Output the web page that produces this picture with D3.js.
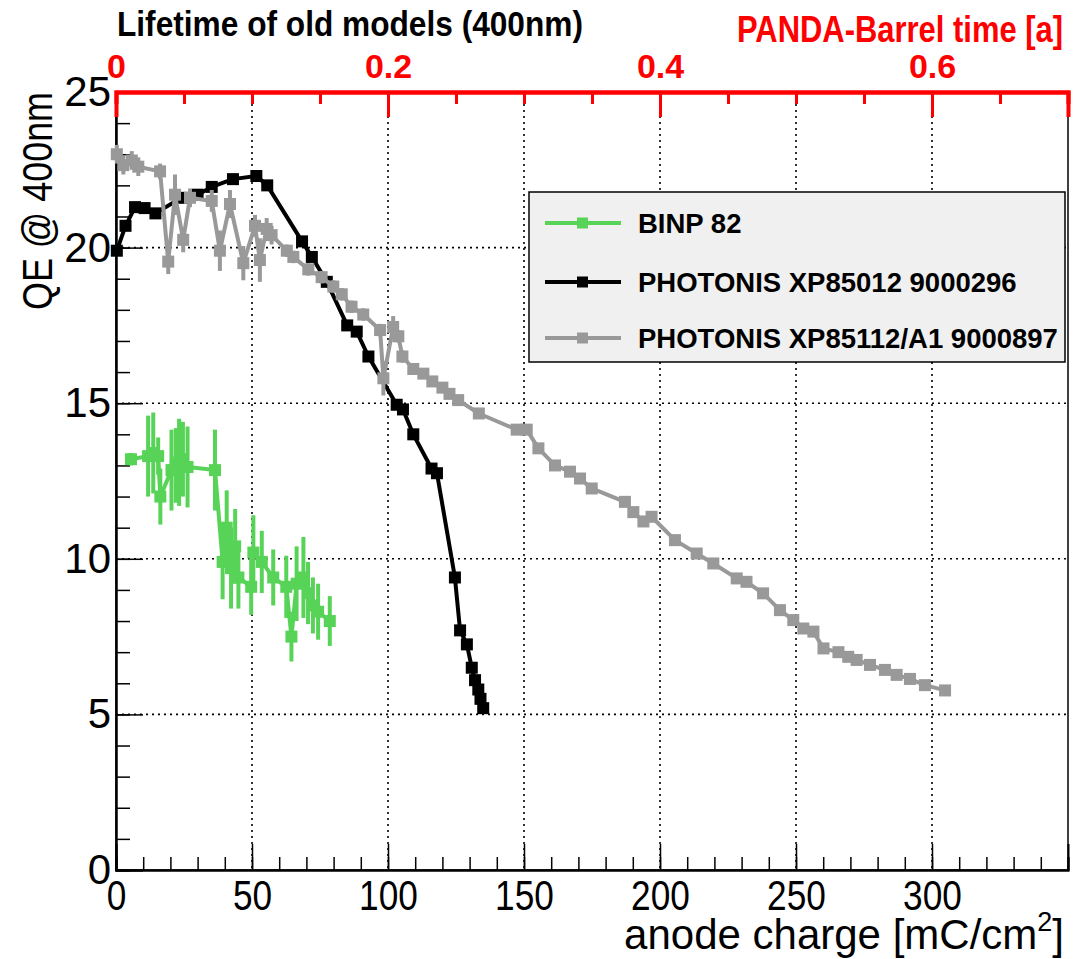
<!DOCTYPE html>
<html>
<head>
<meta charset="utf-8">
<script src="https://cdn.jsdelivr.net/npm/d3@7"></script>
<style>
body { margin: 0; background: #fff; }
svg { display: block; font-family: "Liberation Sans", Arial, Helvetica, sans-serif; }
</style>
</head>
<body>
<svg id="chart" width="1073" height="959"></svg>
<script>
// QE vs. anode charge for three MCP-PMTs, ROOT-style frame with a second (red) time axis on top.
const binpX = [5.5, 11.8, 13.7, 15.5, 16.3, 20.4, 22.0, 23.2, 24.6, 26.3, 36.4, 39.2, 40.7, 42.3, 43.8, 45.0, 49.7, 50.5, 53.6, 57.8, 62.6, 64.5, 66.4, 68.9, 70.6, 72.4, 74.3, 78.6];
const binpQE = [13.2, 13.3, 13.4, 13.3, 12.0, 12.85, 13.0, 13.1, 13.2, 12.95, 12.85, 9.9, 11.0, 9.7, 10.4, 9.4, 9.1, 10.2, 9.9, 9.4, 9.1, 7.5, 9.2, 9.4, 8.9, 8.5, 8.3, 8.0];
const binpErr = [0.2, 1.3, 1.3, 0.6, 0.9, 1.3, 1.2, 1.4, 1.2, 1.3, 1.3, 1.2, 1.2, 1.3, 1.2, 1.0, 0.9, 1.2, 1.0, 0.9, 1.0, 0.8, 1.2, 1.3, 1.0, 0.9, 0.9, 0.8];

const xp012X = [0.3, 3.5, 7.0, 10.5, 14.5, 24.0, 30.0, 35.2, 43.0, 51.6, 55.6, 68.4, 72.0, 77.5, 85.0, 88.5, 92.8, 103.2, 105.5, 109.3, 116.0, 118.0, 124.6, 126.5, 129.0, 130.8, 132.0, 133.2, 134.0, 135.0];
const xp012QE = [19.9, 20.7, 21.3, 21.27, 21.1, 21.6, 21.7, 21.95, 22.2, 22.3, 22.0, 20.2, 19.7, 18.9, 17.5, 17.3, 16.5, 14.95, 14.8, 14.0, 12.9, 12.75, 9.4, 7.7, 7.25, 6.5, 6.1, 5.8, 5.5, 5.2];

const xp112X = [0.3, 2.7, 5.8, 8.2, 16.2, 19.2, 21.7, 24.7, 27.2, 35.2, 38.2, 41.9, 46.8, 51.1, 52.9, 55.4, 57.2, 62.8, 65.2, 70.7, 75.6, 79.9, 83.0, 86.6, 90.9, 97.1, 98.3, 101.9, 103.8, 105.3, 109.3, 113.0, 116.3, 120.0, 122.6, 125.8, 133.4, 147.3, 151.0, 155.3, 161.4, 166.9, 170.6, 174.9, 187.1, 190.2, 193.9, 196.9, 205.5, 213.5, 219.6, 228.2, 231.8, 237.9, 244.1, 249.0, 252.7, 256.4, 260.1, 265.6, 269.2, 272.3, 277.2, 282.7, 287.0, 291.9, 297.4, 304.8];
const xp112QE = [23.0, 22.65, 22.8, 22.6, 22.45, 19.55, 21.7, 20.25, 21.6, 21.5, 19.9, 21.4, 19.5, 20.7, 19.6, 20.6, 20.4, 19.9, 19.7, 19.3, 19.05, 18.75, 18.5, 18.1, 17.85, 17.35, 15.8, 17.45, 17.15, 16.5, 16.1, 15.95, 15.7, 15.5, 15.3, 15.1, 14.67, 14.15, 14.15, 13.55, 13.0, 12.8, 12.58, 12.26, 11.83, 11.5, 11.2, 11.35, 10.6, 10.17, 9.85, 9.37, 9.26, 8.89, 8.35, 8.03, 7.76, 7.66, 7.12, 7.0, 6.85, 6.75, 6.59, 6.43, 6.27, 6.14, 5.94, 5.77];
const xp112Err = [0.3, 0.3, 0.3, 0.3, 0.25, 0.4, 0.65, 0.4, 0.3, 0.35, 0.65, 0.45, 0.55, 0.35, 0.7, 0.35, 0.3, 0.2, 0.2, 0.2, 0.2, 0.2, 0.2, 0.2, 0.2, 0.2, 0.55, 0.35, 0.2, 0.2, 0.15, 0.15, 0.15, 0.15, 0.15, 0.15, 0.15, 0.15, 0.15, 0.15, 0.15, 0.15, 0.15, 0.15, 0.15, 0.15, 0.15, 0.15, 0.15, 0.15, 0.15, 0.15, 0.15, 0.15, 0.15, 0.15, 0.15, 0.15, 0.15, 0.15, 0.15, 0.15, 0.15, 0.15, 0.15, 0.15, 0.15, 0.15];

const chargeMajor = [0, 50, 100, 150, 200, 250, 300];
const qeMajor = [0, 5, 10, 15, 20, 25];
const timeMajor = [0, 0.2, 0.4, 0.6];
const legendNames = ["BINP 82", "PHOTONIS XP85012 9000296", "PHOTONIS XP85112/A1 9000897"];
const colors = { binp: "#57d457", xp012: "#000000", xp112: "#999999" };

const frame = { left: 116, right: 1068, top: 92, bottom: 870 };
const svg = d3.select("#chart");

const x = d3.scaleLinear().domain([0, 350]).range([frame.left, frame.right]);
const y = d3.scaleLinear().domain([0, 25]).range([frame.bottom, frame.top]);
const xTime = d3.scaleLinear().domain([0, 0.7]).range([frame.left, frame.right]);

// dotted grid
const grid = svg.append("g").attr("stroke", "#000").attr("stroke-width", 1.6).attr("stroke-dasharray", "2,4");
grid.selectAll("line.gx").data(chargeMajor.filter(v => v > 0)).join("line")
    .attr("x1", d => x(d)).attr("x2", d => x(d)).attr("y1", frame.top).attr("y2", frame.bottom);
grid.selectAll("line.gy").data(qeMajor.filter(v => v > 0 && v < 25)).join("line")
    .attr("class", "gy")
    .attr("x1", frame.left).attr("x2", frame.right).attr("y1", d => y(d)).attr("y2", d => y(d));

// frame
svg.append("rect")
    .attr("x", frame.left).attr("y", frame.top)
    .attr("width", frame.right - frame.left).attr("height", frame.bottom - frame.top)
    .attr("fill", "none").attr("stroke", "#000").attr("stroke-width", 1.5);

// bottom axis: minor every 10, major every 50 with labels
const xMinor = svg.append("g").attr("transform", `translate(0,${frame.bottom})`)
    .call(d3.axisBottom(x).tickValues(d3.range(0, 351, 10)).tickSize(-13).tickFormat(""));
const xMajor = svg.append("g").attr("transform", `translate(0,${frame.bottom})`)
    .call(d3.axisBottom(x).tickValues(chargeMajor).tickSize(-26).tickPadding(10).tickFormat(d3.format("d")));
xMajor.selectAll("text").attr("font-size", 42).attr("dy", "0.71em").attr("fill", "#000").attr("font-family", null)
    .attr("textLength", function() { return this.textContent.length * 19.6; })
    .attr("lengthAdjust", "spacingAndGlyphs");

// left axis: minor every 1, major every 5
const yMinor = svg.append("g").attr("transform", `translate(${frame.left},0)`)
    .call(d3.axisLeft(y).tickValues(d3.range(0, 25.1, 1)).tickSize(-14).tickFormat(""));
const yMajor = svg.append("g").attr("transform", `translate(${frame.left},0)`)
    .call(d3.axisLeft(y).tickValues(qeMajor).tickSize(-27).tickPadding(5).tickFormat(d3.format("d")));
yMajor.selectAll("text").attr("font-size", 42).attr("fill", "#000").attr("font-family", null);

[xMinor, xMajor, yMinor, yMajor].forEach(a => {
    a.select(".domain").attr("stroke", "#000").attr("stroke-width", 2);
    a.selectAll(".tick line").attr("stroke", "#000").attr("stroke-width", 1.5);
});

// top red time axis
const xTop = svg.append("g").attr("transform", `translate(0,${frame.top})`)
    .call(d3.axisTop(xTime).tickValues(d3.range(0, 0.701, 0.05)).tickSize(-12).tickFormat(""));
const xTopMajor = svg.append("g").attr("transform", `translate(0,${frame.top})`)
    .call(d3.axisTop(xTime).tickValues(timeMajor).tickSize(-25).tickPadding(14).tickFormat(d => d === 0 ? "0" : d3.format(".1f")(d)));
[xTop, xTopMajor].forEach(a => {
    a.select(".domain").attr("stroke", "#ff0000").attr("stroke-width", 4);
    a.selectAll(".tick line").attr("stroke", "#ff0000").attr("stroke-width", 3);
});
xTopMajor.selectAll("text").attr("font-size", 34).attr("font-weight", "bold").attr("fill", "#ff0000").attr("font-family", null);

// series
function drawSeries(xs, ys, errs, color) {
    const pts = xs.map((v, i) => ({ x: v, y: ys[i], e: errs ? errs[i] : 0 }));
    const g = svg.append("g");
    g.append("path").datum(pts)
        .attr("d", d3.line().x(d => x(d.x)).y(d => y(d.y)))
        .attr("fill", "none").attr("stroke", color).attr("stroke-width", 4).attr("stroke-linejoin", "round");
    g.selectAll("line").data(pts.filter(d => d.e > 0)).join("line")
        .attr("x1", d => x(d.x)).attr("x2", d => x(d.x))
        .attr("y1", d => y(d.y - d.e)).attr("y2", d => y(d.y + d.e))
        .attr("stroke", color).attr("stroke-width", 4);
    g.selectAll("rect").data(pts).join("rect")
        .attr("x", d => x(d.x) - 6).attr("y", d => y(d.y) - 6)
        .attr("width", 12).attr("height", 12).attr("fill", color);
}
drawSeries(binpX, binpQE, binpErr, colors.binp);
drawSeries(xp012X, xp012QE, null, colors.xp012);
drawSeries(xp112X, xp112QE, xp112Err, colors.xp112);

// legend
const legend = svg.append("g").attr("transform", "translate(529,192)");
legend.append("rect").attr("width", 536).attr("height", 170)
    .attr("fill", "#f0f0f0").attr("stroke", "#000").attr("stroke-width", 1.5);
const entries = legend.selectAll("g.entry")
    .data(legendNames.map((n, i) => ({ name: n, color: [colors.binp, colors.xp012, colors.xp112][i], cy: [31, 90, 146][i] })))
    .join("g").attr("class", "entry").attr("transform", d => `translate(0,${d.cy})`);
entries.append("line").attr("x1", 16).attr("x2", 92).attr("stroke", d => d.color).attr("stroke-width", 4);
entries.append("rect").attr("x", 48).attr("y", -5.5).attr("width", 11).attr("height", 11).attr("fill", d => d.color);
entries.append("text").attr("x", 109).attr("y", 10).attr("font-size", 27.5).attr("font-weight", "bold").text(d => d.name);

// titles
svg.append("text").attr("x", 117).attr("y", 36).attr("font-size", 35).attr("font-weight", "bold")
    .attr("textLength", 466).attr("lengthAdjust", "spacingAndGlyphs").text("Lifetime of old models (400nm)");
svg.append("text").attr("x", 1063).attr("y", 42).attr("text-anchor", "end").attr("font-size", 36).attr("font-weight", "bold")
    .attr("fill", "#ff0000").attr("textLength", 326).attr("lengthAdjust", "spacingAndGlyphs").text("PANDA-Barrel time [a]");
const xTitle = svg.append("text").attr("x", 1064).attr("y", 949).attr("text-anchor", "end").attr("font-size", 42);
xTitle.append("tspan").text("anode charge [mC/cm");
xTitle.append("tspan").attr("font-size", 27).attr("dy", -18).text("2");
xTitle.append("tspan").attr("dy", 18).text("]");
svg.append("text").attr("transform", "translate(52,92) rotate(-90)").attr("text-anchor", "end").attr("font-size", 42)
    .attr("textLength", 218).attr("lengthAdjust", "spacingAndGlyphs").text("QE @ 400nm");
</script>
</body>
</html>
